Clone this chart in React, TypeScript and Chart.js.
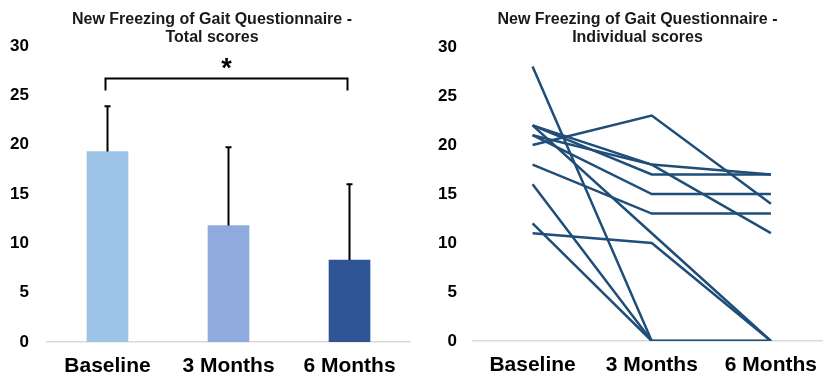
import React, { useEffect, useRef } from "react";
import { Chart, registerables } from "chart.js";

Chart.register(...registerables);

// ---- data ----
const categories = ["Baseline", "3 Months", "6 Months"];
const meanScores = [19.3, 11.8, 8.3];
const sdScores = [4.6, 7.95, 7.7];
const barColors = ["#9DC3E6", "#8FAADC", "#2F5597"];

const baselineScores = [28, 20, 11, 12, 16, 18, 22, 22, 21, 21, 22];
const month3Scores = [0, 23, 10, 0, 0, 13, 18, 17, 18, 15, 11];
const month6Scores = [0, 14, 0, 0, 0, 13, 11, 17, 17, 15, 0];

const yMin = 0;
const yMax = 30;
const yStep = 5;

const sigFrom = 0;
const sigTo = 2;
const sigLevel = 26.7;
const sigDrop = 1.2;
const sigLabel = "*";

const leftTitle = ["New Freezing of Gait Questionnaire -", "Total scores"];
const rightTitle = ["New Freezing of Gait Questionnaire -", "Individual scores"];

// ---- styles ----
const FONT = '"Liberation Sans", Arial, Helvetica, sans-serif';
const lineColor = "#1F4E79";
const axisColor = "#D9D9D9";

const titlePlugin = {
  id: "panelTitle",
  afterDraw(chart: any, _args: any, opts: any) {
    const { ctx } = chart;
    ctx.save();
    ctx.font = `bold 16px ${FONT}`;
    ctx.fillStyle = "#1a1a1a";
    ctx.textAlign = "center";
    ctx.textBaseline = "middle";
    (opts.lines || []).forEach((l: string, i: number) => {
      ctx.fillText(l, opts.x, opts.y + i * opts.gap);
    });
    ctx.restore();
  },
};

const barAnnotations = {
  id: "barAnnotations",
  afterDatasetsDraw(chart: any) {
    const { ctx } = chart;
    const x = chart.scales.x;
    const y = chart.scales.y;
    ctx.save();
    ctx.strokeStyle = "#000";
    ctx.lineWidth = 2;
    meanScores.forEach((m, i) => {
      const cx = x.getPixelForValue(i);
      const yBar = y.getPixelForValue(m);
      const yTop = y.getPixelForValue(m + sdScores[i]);
      ctx.beginPath();
      ctx.moveTo(cx, yBar);
      ctx.lineTo(cx, yTop);
      ctx.moveTo(cx - 3, yTop);
      ctx.lineTo(cx + 3, yTop);
      ctx.stroke();
    });
    const x1 = x.getPixelForValue(sigFrom) - 2;
    const x2 = x.getPixelForValue(sigTo) - 2;
    const yb = y.getPixelForValue(sigLevel);
    const yd = y.getPixelForValue(sigLevel - sigDrop);
    ctx.beginPath();
    ctx.moveTo(x1, yd);
    ctx.lineTo(x1, yb);
    ctx.lineTo(x2, yb);
    ctx.lineTo(x2, yd);
    ctx.stroke();
    ctx.fillStyle = "#000";
    ctx.font = `bold 27px ${FONT}`;
    ctx.textAlign = "center";
    ctx.textBaseline = "alphabetic";
    ctx.fillText(sigLabel, (x1 + x2) / 2, yb - 2);
    ctx.restore();
  },
};

function yAxis(width: number, padding: number) {
  return {
    min: yMin,
    max: yMax,
    ticks: {
      stepSize: yStep,
      padding,
      color: "#000",
      font: { family: FONT, size: 17, weight: "bold" as const },
    },
    grid: { display: false, drawTicks: false },
    border: { display: false },
    afterFit(scale: any) {
      scale.width = width;
    },
  };
}

export default function App() {
  const leftRef = useRef<HTMLCanvasElement>(null);
  const rightRef = useRef<HTMLCanvasElement>(null);

  useEffect(() => {
    const left = new Chart(leftRef.current!, {
      type: "bar",
      data: {
        labels: categories,
        datasets: [
          {
            data: meanScores,
            backgroundColor: barColors,
            borderWidth: 0,
            barThickness: 41,
          },
        ],
      },
      options: {
        responsive: false,
        animation: false,
        layout: { padding: { top: 46, right: 5, bottom: 0, left: 0 } },
        plugins: {
          legend: { display: false },
          tooltip: { enabled: false },
          panelTitle: { lines: leftTitle, x: 212, y: 19.5, gap: 18 },
        } as any,
        scales: {
          x: {
            ticks: {
              padding: 12,
              color: "#000",
              font: { family: FONT, size: 21, weight: "bold" },
            },
            grid: { display: false, drawTicks: false },
            border: { display: true, color: axisColor, width: 1.5 },
            afterFit(scale: any) {
              scale.height = 35;
            },
          },
          y: yAxis(47, 18) as any,
        },
      },
      plugins: [titlePlugin, barAnnotations],
    });

    const right = new Chart(rightRef.current!, {
      type: "line",
      data: {
        datasets: baselineScores.map((b, i) => ({
          label: `Subject ${i + 1}`,
          data: [b, month3Scores[i], month6Scores[i]].map((v, j) => ({ x: j, y: v })),
          borderColor: lineColor,
          borderWidth: 2.5,
          pointRadius: 0,
          tension: 0,
          fill: false,
        })),
      },
      options: {
        responsive: false,
        animation: false,
        layout: { padding: { top: 47, right: 0, bottom: 1, left: 0 } },
        plugins: {
          legend: { display: false },
          tooltip: { enabled: false },
          panelTitle: { lines: rightTitle, x: 222.5, y: 20, gap: 18 },
        } as any,
        scales: {
          x: {
            type: "linear",
            min: -0.5,
            max: 2.43,
            afterBuildTicks(axis: any) {
              axis.ticks = categories.map((_, i) => ({ value: i }));
            },
            ticks: {
              padding: 12,
              color: "#000",
              font: { family: FONT, size: 21, weight: "bold" },
              callback: (v: any) => categories[v as number] ?? "",
            },
            grid: { display: false, drawTicks: false },
            border: { display: true, color: axisColor, width: 1.5 },
            afterFit(scale: any) {
              scale.height = 35;
            },
          },
          y: yAxis(58, 16) as any,
        },
      },
      plugins: [titlePlugin],
    });

    return () => {
      left.destroy();
      right.destroy();
    };
  }, []);

  return (
    <div
      style={{
        position: "fixed",
        left: 0,
        top: 0,
        width: 829,
        height: 377,
        background: "#fff",
        overflow: "hidden",
      }}
    >
      <canvas
        ref={leftRef}
        width={415}
        height={377}
        style={{ position: "absolute", left: 0, top: 0, display: "block" }}
      />
      <canvas
        ref={rightRef}
        width={414}
        height={377}
        style={{ position: "absolute", left: 415, top: 0, display: "block" }}
      />
    </div>
  );
}
